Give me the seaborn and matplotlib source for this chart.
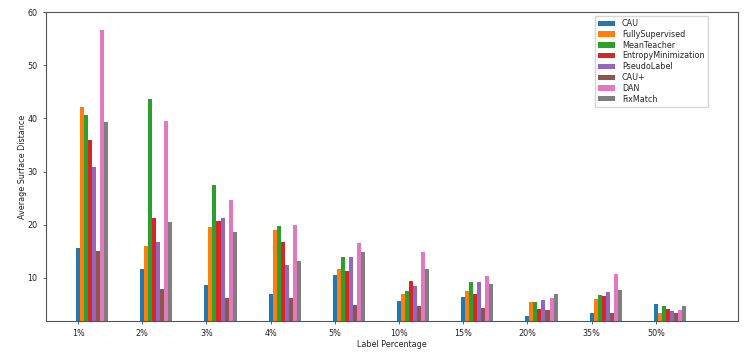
import pandas as pd
import matplotlib
matplotlib.use("Agg")
import matplotlib.pyplot as plt
import seaborn as sns

labels = ["1%", "2%", "3%", "4%", "5%", "10%", "15%", "20%", "35%", "50%"]
methods = ["CAU", "FullySupervised", "MeanTeacher", "EntropyMinimization",
           "PseudoLabel", "CAU+", "DAN", "FixMatch"]

cau = [15.7, 11.6, 8.6, 7.0, 10.6, 5.6, 6.4, 2.9, 3.4, 5.05]
fully = [42.1, 16.1, 19.6, 19.0, 11.6, 7.0, 7.6, 5.5, 6.0, 3.4]
mean_teacher = [40.6, 43.6, 27.5, 19.8, 13.9, 7.6, 9.3, 5.5, 6.7, 4.7]
entropy_min = [35.9, 21.3, 20.7, 16.7, 11.3, 9.4, 7.05, 4.2, 6.6, 4.2]
pseudo_label = [30.9, 16.8, 21.3, 12.4, 13.9, 8.5, 9.3, 5.8, 7.4, 3.8]
cau_plus = [15.1, 7.9, 6.3, 6.2, 4.9, 4.8, 4.4, 3.9, 3.4, 3.4]
dan = [56.7, 39.5, 24.7, 19.9, 16.5, 14.8, 10.4, 6.3, 10.8, 4.0]
fixmatch = [39.4, 20.6, 18.7, 13.2, 14.8, 11.7, 8.9, 6.9, 7.7, 4.7]

series = [cau, fully, mean_teacher, entropy_min, pseudo_label, cau_plus, dan, fixmatch]

rows = []
for m, vals in zip(methods, series):
    for lab, v in zip(labels, vals):
        rows.append({"Label Percentage": lab, "Method": m, "ASD": v})
df = pd.DataFrame(rows)

sns.set_style("ticks")
plt.rcParams["font.family"] = ["DejaVu Sans"]

fs = 5.8
fig = plt.figure(figsize=(7.5, 3.57), dpi=100)
ax = fig.add_axes([0.0613, 0.1008, 0.9227, 0.8652])

group_w = 0.5
sns.barplot(data=df, x="Label Percentage", y="ASD", hue="Method",
            order=labels, hue_order=methods, palette="tab10",
            width=group_w, gap=0, saturation=1, errorbar=None,
            linewidth=0, ax=ax)

bar_w = group_w / len(methods)
offset = -group_w / 2 + bar_w / 2
ax.set_xticks([i + offset for i in range(len(labels))])
ax.set_xticklabels(labels)
ax.set_xlim(offset - 0.5, offset + 10.28)
ax.set_ylim(1.9, 60)
ax.set_yticks([10, 20, 30, 40, 50, 60])
ax.tick_params(axis="both", labelsize=fs, length=2.5, width=0.6,
               colors="#444444", labelcolor="#222222")
ax.set_xlabel("Label Percentage", fontsize=fs, labelpad=1.5, color="#222222")
ax.set_ylabel("Average Surface Distance", fontsize=fs, labelpad=0.5, color="#222222")
for s in ax.spines.values():
    s.set_linewidth(0.8)
    s.set_color("#555555")

ax.legend(loc="upper right", bbox_to_anchor=(0.9566, 0.989), fontsize=fs,
          frameon=True, title=None, handlelength=2.0, handleheight=0.65,
          labelspacing=0.22, borderpad=0.45, handletextpad=0.9,
          borderaxespad=0)

fig.savefig("out.png", dpi=100)
